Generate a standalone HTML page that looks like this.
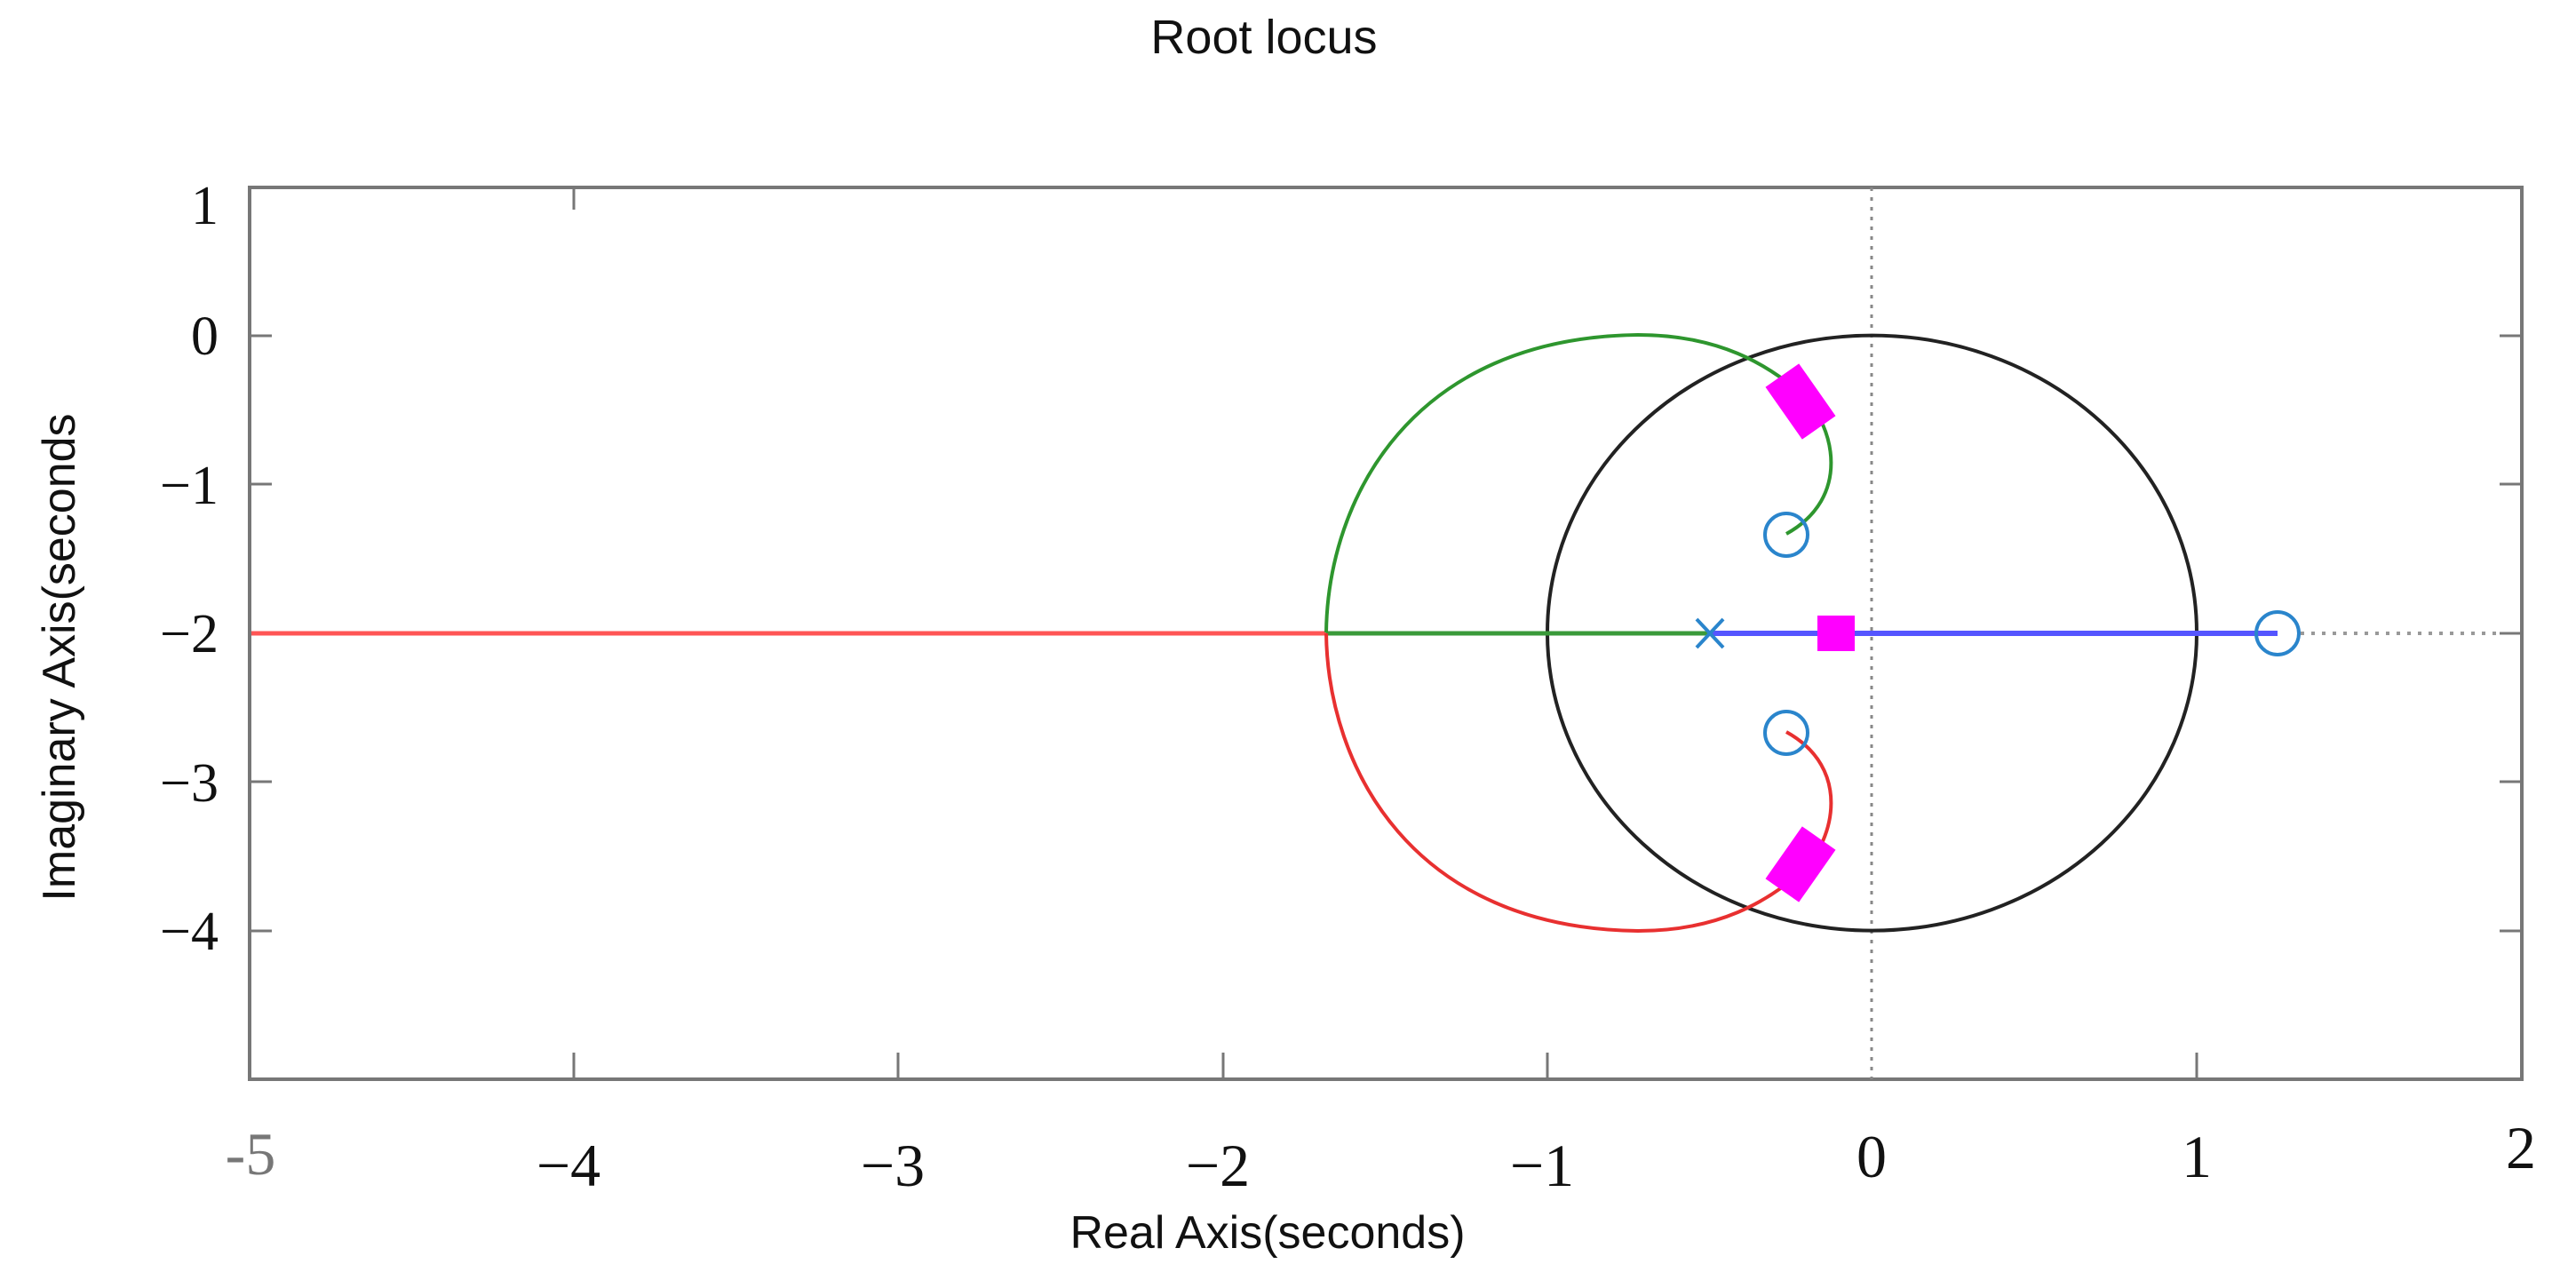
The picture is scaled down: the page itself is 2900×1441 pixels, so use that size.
<!DOCTYPE html>
<html><head><style>body{margin:0;background:#fff}svg{display:block}</style></head><body>
<svg width="2900" height="1441" viewBox="0 0 2900 1441" xmlns="http://www.w3.org/2000/svg">
<rect width="2900" height="1441" fill="#fff"/>
<text x="1423" y="60" font-family="Liberation Sans, sans-serif" font-size="54" text-anchor="middle" fill="#111">Root locus</text>
<rect x="281" y="211" width="2558" height="1004" fill="none" stroke="#777" stroke-width="4"/>
<g stroke="#777" stroke-width="3">
<path d="M281,378h25M281,545h25M281,713h25M281,880h25M281,1048h25"/>
<path d="M2839,378h-25M2839,545h-25M2839,713h-25M2839,880h-25M2839,1048h-25"/>
<path d="M646,1215v-30M1011,1215v-30M1377,1215v-30M1742,1215v-30M2473,1215v-30"/>
<path d="M646,211v25"/>
</g>
<line x1="2107" y1="211" x2="2107" y2="1215" stroke="#888" stroke-width="3" stroke-dasharray="4,7"/>
<line x1="2590" y1="713" x2="2812" y2="713" stroke="#999" stroke-width="4" stroke-dasharray="4,8"/>
<ellipse cx="2107.5" cy="712.6" rx="365.5" ry="335" fill="none" stroke="#222" stroke-width="4"/>
<line x1="283" y1="713" x2="1493" y2="713" stroke="#f55" stroke-width="5"/>
<line x1="1493" y1="713" x2="1925" y2="713" stroke="#3a9a3a" stroke-width="5"/>
<line x1="1925" y1="713" x2="2564" y2="713" stroke="#55f" stroke-width="6"/>
<path d="M1493,712 C1495,560 1590,380 1844,377 C1935,377 1990,410 2030,445 C2065,480 2085,560 2011,601" fill="none" stroke="#2e962e" stroke-width="4"/>
<path d="M1493,713 C1495,865 1590,1045 1844,1048 C1935,1048 1990,1015 2030,980 C2065,945 2085,865 2011,824" fill="none" stroke="#e83030" stroke-width="4"/>
<g fill="#f0f">
<rect x="2004" y="416" width="46" height="72" transform="rotate(-35 2027 452)"/>
<rect x="2046" y="693" width="42" height="40"/>
<rect x="2004" y="937" width="46" height="72" transform="rotate(35 2027 973)"/>
</g>
<g fill="none" stroke="#2a85cc" stroke-width="4">
<ellipse cx="2011" cy="602" rx="24" ry="24"/>
<ellipse cx="2011" cy="825" rx="24" ry="24"/>
<ellipse cx="2564" cy="713" rx="24" ry="24"/>
<path d="M1910,697l30,32M1940,697l-30,32"/>
</g>
<g font-family="Liberation Serif, serif" font-size="62" fill="#111" text-anchor="end">
<text x="246" y="252">1</text>
<text x="246" y="399">0</text>
<text x="246" y="567">−1</text>
<text x="246" y="734">−2</text>
<text x="246" y="902">−3</text>
<text x="246" y="1069">−4</text>
</g>
<g font-family="Liberation Serif, serif" font-size="68" fill="#111" text-anchor="middle">
<text x="282" y="1322" fill="#777">-5</text>
<text x="640" y="1335">−4</text>
<text x="1005" y="1335">−3</text>
<text x="1371" y="1335">−2</text>
<text x="1736" y="1335">−1</text>
<text x="2107" y="1325">0</text>
<text x="2473" y="1325">1</text>
<text x="2838" y="1315">2</text>
</g>
<text x="1427" y="1405" font-family="Liberation Sans, sans-serif" font-size="52" text-anchor="middle" fill="#111">Real Axis(seconds)</text>
<text transform="translate(84,740) rotate(-90)" font-family="Liberation Sans, sans-serif" font-size="52" text-anchor="middle" fill="#111">Imaginary Axis(seconds</text>
</svg>
</body></html>
